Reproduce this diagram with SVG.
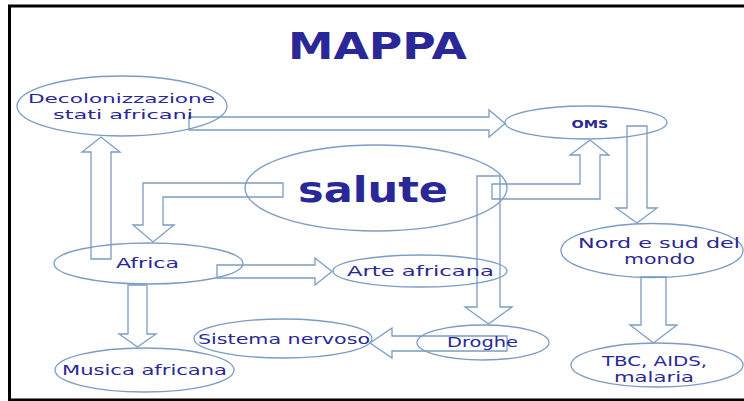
<svg xmlns="http://www.w3.org/2000/svg" width="744" height="401" viewBox="0 0 744 401">
<style>
.n{fill:none;stroke:#7b9cc4;stroke-width:1.3}
.a{fill:none;stroke:#7b9cc4;stroke-width:1.3;stroke-linejoin:miter}
text{font-family:"DejaVu Sans","Liberation Sans",sans-serif;fill:#2a2896;text-anchor:middle}
.t{font-size:14px}
.s{font-size:12.5px}
.b{font-weight:bold}
</style>
<rect x="0" y="0" width="744" height="401" fill="#fff"/>
<rect x="9.5" y="6" width="740" height="394" fill="none" stroke="#000" stroke-width="3"/>
<text id="title" class="b" x="377.5" y="59" font-size="37" textLength="179" lengthAdjust="spacingAndGlyphs">MAPPA</text>
<g id="connectors">
<polygon class="a" points="189,117 489,117 489,110 505,123.5 489,137 489,130 189,130"/>
<polygon class="a" points="492,184 580,184 580,155 570,155 590,140 609,155 600,155 600,199 492,199"/>
<polygon class="a" points="627,126 647,126 647,208 657,208 637,223 616,208 627,208"/>
<polygon class="a" points="641,277 666,277 666,325 677,325 653.5,343 630,325 641,325"/>
<polygon class="a" points="283,183 283,197 163,197 163,225 174,225 153,242 133,225 143,225 143,183"/>
<polygon class="a" points="91,259 91,152 82,152 101,137 120,152 111,152 111,259"/>
<polygon class="a" points="217,265 315,265 315,258 332,271.5 315,285 315,278 217,278"/>
<polygon class="a" points="477,176 500,176 500,307 512,307 488.5,324 465,307 477,307"/>
<polygon class="a" points="507,336 392,336 392,328 370,343 392,358 392,351 507,351"/>
<polygon class="a" points="128,285 147,285 147,334 156,334 137.5,347 119,334 128,334"/>
</g>
<g id="decolonizzazione">
<ellipse class="n" cx="122" cy="106" rx="105" ry="30"/>
<text class="s" x="121.5" y="102.5" textLength="187" lengthAdjust="spacingAndGlyphs">Decolonizzazione</text>
<text class="s" x="123" y="118.5" textLength="140" lengthAdjust="spacingAndGlyphs">stati africani</text>
</g>
<g id="oms">
<ellipse class="n" cx="586" cy="122.5" rx="81" ry="16.5"/>
<text class="b" font-size="11" x="590" y="128" textLength="37" lengthAdjust="spacingAndGlyphs">OMS</text>
</g>
<g id="salute">
<ellipse class="n" cx="376" cy="188" rx="131" ry="43"/>
<text class="b" font-size="35" x="373" y="202" textLength="150" lengthAdjust="spacingAndGlyphs">salute</text>
</g>
<g id="nord">
<ellipse class="n" cx="652" cy="250.5" rx="91" ry="27"/>
<text class="t" x="659" y="248" textLength="162" lengthAdjust="spacingAndGlyphs">Nord e sud del</text>
<text class="t" x="659.5" y="263.5" textLength="71" lengthAdjust="spacingAndGlyphs">mondo</text>
</g>
<g id="tbc">
<ellipse class="n" cx="657" cy="365" rx="86" ry="22"/>
<text class="t" x="654.5" y="366" textLength="105" lengthAdjust="spacingAndGlyphs">TBC, AIDS,</text>
<text class="t" x="654" y="381.5" textLength="80" lengthAdjust="spacingAndGlyphs">malaria</text>
</g>
<g id="africa">
<ellipse class="n" cx="148.5" cy="263.5" rx="94.5" ry="20.5"/>
<text class="t" x="147.5" y="268" textLength="63" lengthAdjust="spacingAndGlyphs">Africa</text>
</g>
<g id="arte">
<ellipse class="n" cx="420" cy="271" rx="87" ry="16"/>
<text class="t" x="420.5" y="276" textLength="147" lengthAdjust="spacingAndGlyphs">Arte africana</text>
</g>
<g id="droghe">
<ellipse class="n" cx="483" cy="342.5" rx="66" ry="17.5"/>
<text class="t" x="482.5" y="347" textLength="71" lengthAdjust="spacingAndGlyphs">Droghe</text>
</g>
<g id="sistema">
<ellipse class="n" cx="283" cy="338.5" rx="89" ry="19.5"/>
<text class="t" x="284" y="344" textLength="172" lengthAdjust="spacingAndGlyphs">Sistema nervoso</text>
</g>
<g id="musica">
<ellipse class="n" cx="144.5" cy="370" rx="89.5" ry="22"/>
<text class="t" x="144.5" y="375" textLength="165" lengthAdjust="spacingAndGlyphs">Musica africana</text>
</g>
</svg>
